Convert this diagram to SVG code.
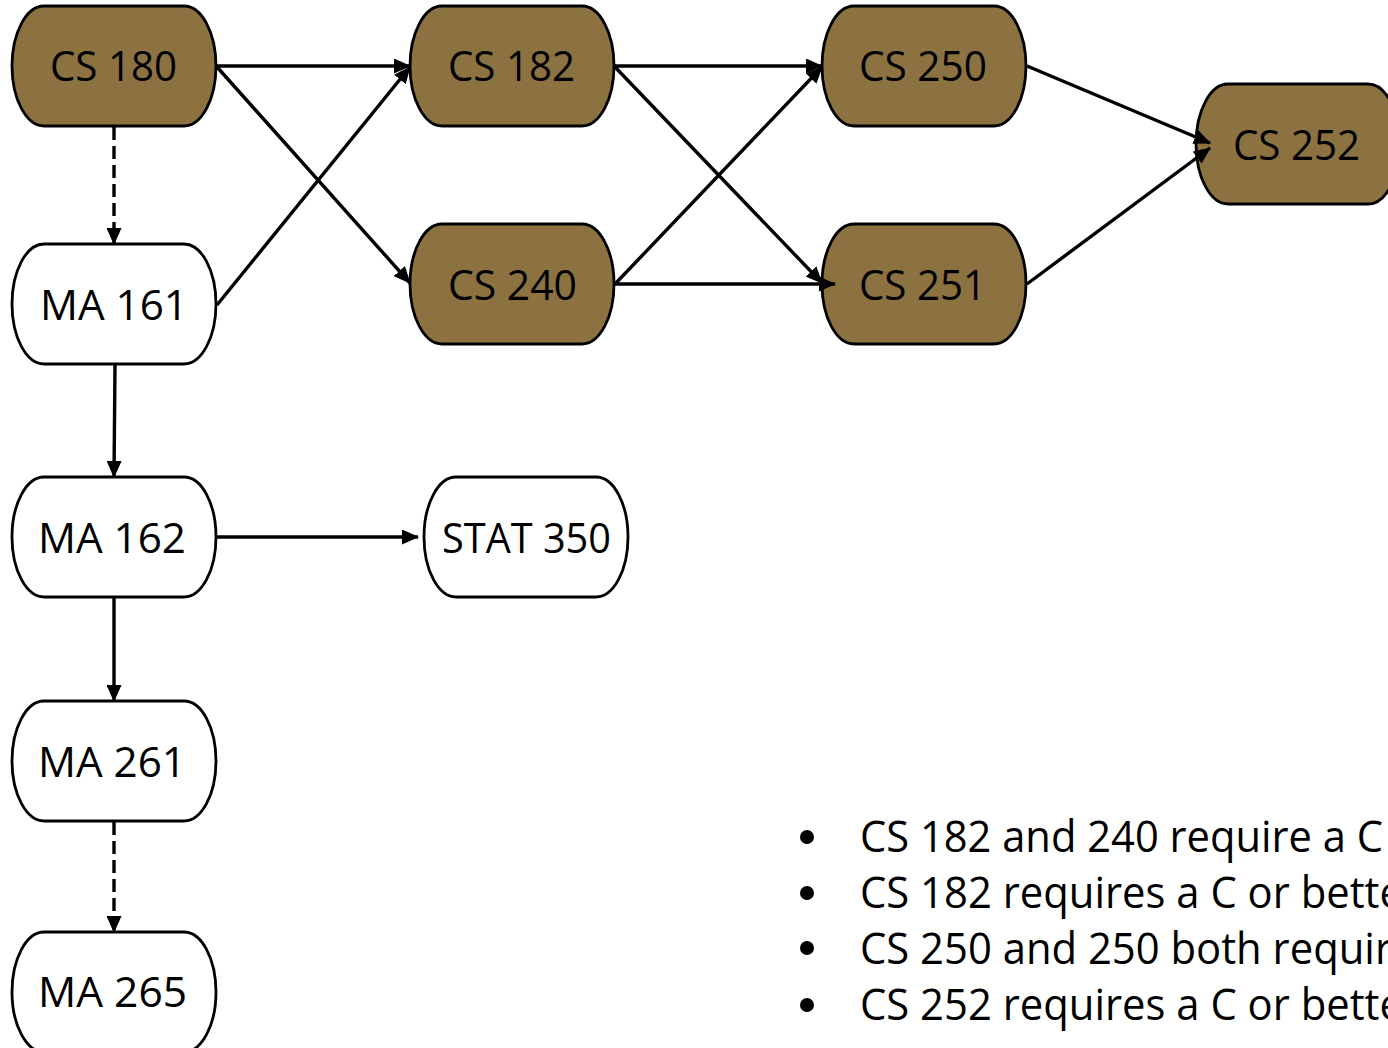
<svg xmlns="http://www.w3.org/2000/svg" width="1388" height="1048" viewBox="0 0 1388 1048">
<style>
.nd{stroke:#000;stroke-width:2.8}
.cs{fill:#8C7141}
.ma{fill:#fff}
.lb{font-family:"Open Sans","Liberation Sans",sans-serif;font-size:42px;fill:#000}
.bl{font-family:"Open Sans","Liberation Sans",sans-serif;font-size:43px;fill:#000}
.cn{stroke:#000;stroke-width:3.4;fill:none;marker-end:url(#ah)}
.ds{stroke-dasharray:13 6}
</style>
<defs>
<marker id="ah" markerUnits="userSpaceOnUse" markerWidth="17" markerHeight="15" viewBox="0 0 17 15" refX="16" refY="7.5" orient="auto">
<path d="M0,0 L17,7.5 L0,15 z" fill="#000"/>
</marker>
</defs>
<rect width="1388" height="1048" fill="#fff"/>
<g id="cs180"><rect class="nd cs" x="12" y="6" width="204" height="120" rx="32" ry="60"/><text class="lb" x="50" y="81" textLength="127" lengthAdjust="spacingAndGlyphs">CS 180</text></g>
<g id="cs182"><rect class="nd cs" x="410" y="6" width="204" height="120" rx="32" ry="60"/><text class="lb" x="448" y="81" textLength="127" lengthAdjust="spacingAndGlyphs">CS 182</text></g>
<g id="cs250"><rect class="nd cs" x="822" y="6" width="204" height="120" rx="32" ry="60"/><text class="lb" x="859" y="81" textLength="128" lengthAdjust="spacingAndGlyphs">CS 250</text></g>
<g id="cs240"><rect class="nd cs" x="410" y="224" width="204" height="120" rx="32" ry="60"/><text class="lb" x="448" y="300" textLength="129" lengthAdjust="spacingAndGlyphs">CS 240</text></g>
<g id="cs251"><rect class="nd cs" x="822" y="224" width="204" height="120" rx="32" ry="60"/><text class="lb" x="859" y="300" textLength="127" lengthAdjust="spacingAndGlyphs">CS 251</text></g>
<g id="cs252"><rect class="nd cs" x="1196" y="84" width="204" height="120" rx="32" ry="60"/><text class="lb" x="1233" y="160" textLength="127" lengthAdjust="spacingAndGlyphs">CS 252</text></g>
<g id="ma161"><rect class="nd ma" x="12" y="244" width="204" height="120" rx="32" ry="60"/><text class="lb" x="40" y="320" textLength="148" lengthAdjust="spacingAndGlyphs">MA 161</text></g>
<g id="ma162"><rect class="nd ma" x="12" y="477" width="204" height="120" rx="32" ry="60"/><text class="lb" x="38" y="553" textLength="148" lengthAdjust="spacingAndGlyphs">MA 162</text></g>
<g id="stat350"><rect class="nd ma" x="424" y="477" width="204" height="120" rx="32" ry="60"/><text class="lb" x="442" y="553" textLength="169" lengthAdjust="spacingAndGlyphs">STAT 350</text></g>
<g id="ma261"><rect class="nd ma" x="12" y="701" width="204" height="120" rx="32" ry="60"/><text class="lb" x="38" y="777" textLength="148" lengthAdjust="spacingAndGlyphs">MA 261</text></g>
<g id="ma265"><rect class="nd ma" x="12" y="932" width="204" height="120" rx="32" ry="60"/><text class="lb" x="38" y="1007" textLength="149" lengthAdjust="spacingAndGlyphs">MA 265</text></g>
<g id="connectors">
<line class="cn" x1="217" y1="66" x2="410" y2="66"/>
<line class="cn" x1="217" y1="67" x2="410" y2="283"/>
<line class="cn" x1="217" y1="305" x2="410" y2="67"/>
<line class="cn" x1="615" y1="66" x2="822" y2="66"/>
<line class="cn" x1="615" y1="67" x2="822" y2="283"/>
<line class="cn" x1="615" y1="284" x2="822" y2="67"/>
<line class="cn" x1="615" y1="284" x2="835" y2="284"/>
<line class="cn" x1="1027" y1="66" x2="1210" y2="143"/>
<line class="cn" x1="1027" y1="284" x2="1210" y2="148"/>
<line class="cn ds" x1="114" y1="127" x2="114" y2="244"/>
<line class="cn" x1="115" y1="365" x2="114" y2="477"/>
<line class="cn" x1="215" y1="537" x2="418" y2="537"/>
<line class="cn" x1="114" y1="597" x2="114" y2="701"/>
<line class="cn ds" x1="114" y1="822" x2="114" y2="932"/>
</g>
<g id="notes">
<circle cx="807" cy="837" r="7"/>
<circle cx="807" cy="893" r="7"/>
<circle cx="807" cy="948" r="7"/>
<circle cx="807" cy="1005" r="7"/>
<text class="bl" x="860" y="852" textLength="523" lengthAdjust="spacingAndGlyphs">CS 182 and 240 require a C</text>
<text class="bl" x="860" y="908" textLength="543" lengthAdjust="spacingAndGlyphs">CS 182 requires a C or bette</text>
<text class="bl" x="860" y="964" textLength="532" lengthAdjust="spacingAndGlyphs">CS 250 and 250 both requir</text>
<text class="bl" x="860" y="1020" textLength="543" lengthAdjust="spacingAndGlyphs">CS 252 requires a C or bette</text>
</g>
</svg>
